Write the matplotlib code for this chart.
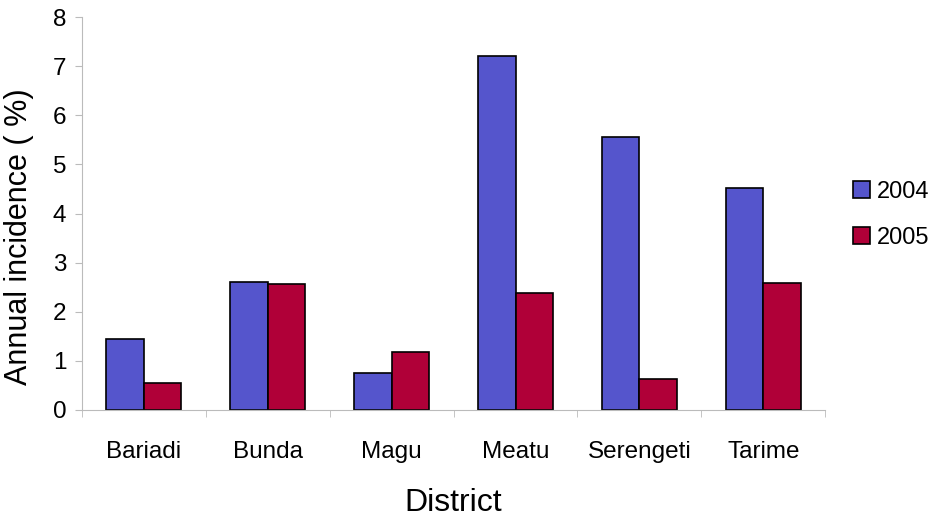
import numpy as np
import matplotlib
matplotlib.use('Agg')
import matplotlib.pyplot as plt

plt.rcParams['font.family'] = ['Liberation Sans', 'DejaVu Sans']

# Data
districts = ['Bariadi', 'Bunda', 'Magu', 'Meatu', 'Serengeti', 'Tarime']
inc_2004 = [1.45, 2.61, 0.75, 7.21, 5.56, 4.52]
inc_2005 = [0.55, 2.57, 1.18, 2.38, 0.63, 2.59]

fig = plt.figure(figsize=(9.38, 5.17), dpi=100)
ax = fig.add_axes([0.087, 0.207, 0.793, 0.76])

x = np.arange(len(districts))
w = 0.3
ax.bar(x - w/2, inc_2004, w, color='#5555CC', edgecolor='black', linewidth=1.2, label='2004')
ax.bar(x + w/2, inc_2005, w, color='#B00038', edgecolor='black', linewidth=1.2, label='2005')

ax.set_xlim(-0.5, len(districts) - 0.5)
ax.set_ylim(0, 8)
ax.set_yticks(range(0, 9))
ax.set_xticks(x)
ax.set_xticklabels(districts)
ax.set_xticks(np.arange(-0.5, len(districts)), minor=True)
ax.tick_params(axis='x', which='major', length=0, labelsize=17.5, pad=22)
ax.tick_params(axis='x', which='minor', length=5, color='#bbbbbb', direction='out')
ax.tick_params(axis='y', labelsize=17.5, length=5, color='#bbbbbb', pad=6)

for s in ['top', 'right']:
    ax.spines[s].set_visible(False)
for s in ['left', 'bottom']:
    ax.spines[s].set_color('#bbbbbb')

ax.set_ylabel('Annual incidence ( %)', fontsize=22)
ax.yaxis.set_label_coords(-0.064, 0.44)
ax.set_xlabel('District', fontsize=23, labelpad=18)

ax.legend(loc='center left', bbox_to_anchor=(1.018, 0.497), frameon=False,
          fontsize=17, handlelength=0.7, handleheight=0.7, labelspacing=1.0,
          handletextpad=0.3, borderaxespad=0.2)

plt.savefig('out.png', dpi=100)
